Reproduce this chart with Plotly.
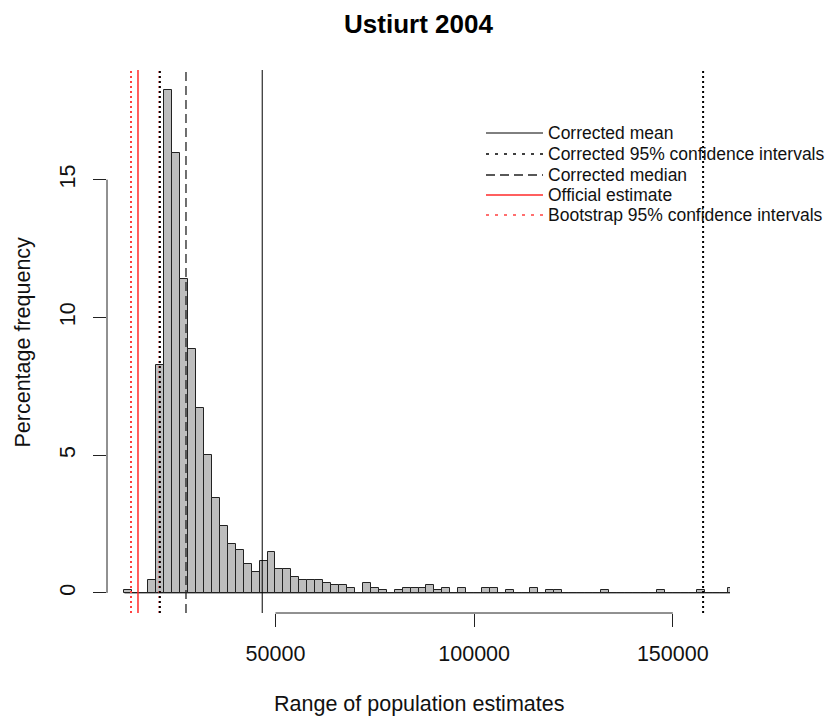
import plotly.graph_objects as go

TITLE = "Ustiurt 2004"
X_LABEL = "Range of population estimates"
Y_LABEL = "Percentage frequency"

# histogram: 2000-wide bins starting at 12000, percentage frequency per bin
BIN_WIDTH = 2000
BIN_STARTS = list(range(12000, 166000, BIN_WIDTH))
PERCENTS = [
    0.09, 0, 0, 0.46, 8.27, 18.25, 15.97, 11.38, 8.87, 6.70,
    5.01, 3.46, 2.41, 1.77, 1.57, 1.06, 0.76, 1.17, 1.47, 0.86,
    0.86, 0.56, 0.45, 0.45, 0.45, 0.36, 0.27, 0.27, 0.18, 0,
    0.36, 0.18, 0.09, 0, 0.09, 0.18, 0.18, 0.18, 0.27, 0.09,
    0.18, 0, 0.18, 0, 0, 0.18, 0.18, 0, 0.09, 0,
    0, 0.18, 0, 0.09, 0.09, 0, 0, 0, 0, 0,
    0.09, 0, 0, 0, 0, 0, 0, 0.09, 0, 0,
    0, 0, 0.09, 0, 0, 0, 0.18,
]

# reference lines
CORRECTED_MEAN = 46670
CORRECTED_CI = [20900, 157630]
CORRECTED_MEDIAN = 27480
OFFICIAL_ESTIMATE = 15400
BOOTSTRAP_CI = [13640, 20800]

X_RANGE = [7600, 164400]
Y_RANGE = [-0.73, 18.98]
X_TICKS = [50000, 100000, 150000]
Y_TICKS = [0, 5, 10, 15]

FONT = "Liberation Sans, Arial, sans-serif"
# the page has an 8px body margin, so the figure is 8px smaller than the window
W, H = 826, 712
M_L, M_R, M_T, M_B = 99, 104, 62, 107
PW, PH = W - M_L - M_R, H - M_T - M_B


def px_x(p):
    return (p - M_L) / PW


def px_y(p):
    return (H - M_B - p) / PH


# (label, colour, width, dash on plot, dash in legend)
STYLES = {
    "mean": ("Corrected mean", "#000000", 1, "solid", "solid"),
    "ci": ("Corrected 95% confidence intervals", "#000000", 2, "2px,3px", "3px,6px"),
    "median": ("Corrected median", "#222222", 1.3, "9px,5px", "9px,5px"),
    "official": ("Official estimate", "#ff2a2a", 1.5, "solid", "solid"),
    "boot": ("Bootstrap 95% confidence intervals", "#ff4040", 2, "2px,3px", "3px,6px"),
}
LINE_VALUES = [
    ("boot", BOOTSTRAP_CI[0]),
    ("official", OFFICIAL_ESTIMATE),
    ("boot", BOOTSTRAP_CI[1]),
    ("ci", CORRECTED_CI[0]),
    ("median", CORRECTED_MEDIAN),
    ("mean", CORRECTED_MEAN),
    ("ci", CORRECTED_CI[1]),
]

fig = go.Figure()

# baseline under empty bins
fig.add_trace(go.Scatter(
    x=[BIN_STARTS[0], BIN_STARTS[-1] + BIN_WIDTH], y=[0, 0],
    mode="lines", line={"color": "#222222", "width": 1},
    hoverinfo="skip",
))
fig.add_trace(go.Bar(
    x=BIN_STARTS, y=PERCENTS, width=BIN_WIDTH, offset=0,
    marker={"color": "#bebebe", "line": {"color": "#222222", "width": 1}},
    hovertemplate="%{x}: %{y:.2f}%<extra></extra>",
))

shapes = []
for key, value in LINE_VALUES:
    _, color, width, dash, _ = STYLES[key]
    shapes.append({
        "type": "line", "xref": "x", "yref": "paper",
        "x0": value, "x1": value, "y0": 0, "y1": 1,
        "line": {"color": color, "width": width, "dash": dash},
        "layer": "above",
    })

# R-style axis lines spanning first to last tick
shapes.append({
    "type": "line", "xref": "x", "yref": "paper",
    "x0": X_TICKS[0], "x1": X_TICKS[-1], "y0": 0, "y1": 0,
    "line": {"color": "#222222", "width": 1},
})
shapes.append({
    "type": "line", "xref": "paper", "yref": "y",
    "x0": 0, "x1": 0, "y0": Y_TICKS[0], "y1": Y_TICKS[-1],
    "line": {"color": "#222222", "width": 1},
})

annotations = [
    {"text": X_LABEL, "xref": "paper", "yref": "paper", "x": 0.5, "y": px_y(696),
     "xanchor": "center", "yanchor": "middle", "showarrow": False,
     "font": {"size": 21.5}},
    {"text": Y_LABEL, "xref": "paper", "yref": "paper", "x": px_x(14), "y": 0.5,
     "xanchor": "center", "yanchor": "middle", "showarrow": False, "textangle": -90,
     "font": {"size": 21.5}},
]

# legend, drawn by hand like R's legend(bty = "n")
legend_rows = [125, 146, 167, 187, 207]
for row_y, key in zip(legend_rows, ["mean", "ci", "median", "official", "boot"]):
    label, color, width, _, dash = STYLES[key]
    shapes.append({
        "type": "line", "xref": "paper", "yref": "paper",
        "x0": px_x(478), "x1": px_x(535), "y0": px_y(row_y), "y1": px_y(row_y),
        "line": {"color": color, "width": min(width, 1.5), "dash": dash},
    })
    annotations.append({
        "text": label, "xref": "paper", "yref": "paper",
        "x": px_x(538), "y": px_y(row_y), "xanchor": "left", "yanchor": "middle",
        "showarrow": False, "font": {"size": 17.5},
    })

axis_common = {
    "showgrid": False, "zeroline": False, "showline": False, "automargin": False,
    "ticks": "outside", "ticklen": 13, "tickwidth": 1, "tickcolor": "#222222",
    "tickfont": {"size": 21.5, "color": "#111111"},
}

fig.update_layout(
    width=W, height=H,
    margin={"l": M_L, "r": M_R, "t": M_T, "b": M_B},
    paper_bgcolor="white", plot_bgcolor="white",
    font={"family": FONT, "color": "#111111", "size": 21.5},
    showlegend=False,
    bargap=0,
    title={"text": TITLE, "x": 0.5, "xref": "paper", "xanchor": "center",
           "y": 1 - 15.5 / H, "yref": "container", "yanchor": "middle",
           "font": {"size": 26, "weight": "bold", "color": "#000000"}},
    xaxis={**axis_common, "range": X_RANGE, "tickvals": X_TICKS,
           "ticktext": [str(t) for t in X_TICKS], "ticklabelstandoff": 8},
    yaxis={**axis_common, "range": Y_RANGE, "tickvals": Y_TICKS,
           "ticktext": [str(t) for t in Y_TICKS], "tickangle": -90,
           "ticklabelstandoff": 9},
    shapes=shapes,
    annotations=annotations,
)

fig.write_html("out.html")
